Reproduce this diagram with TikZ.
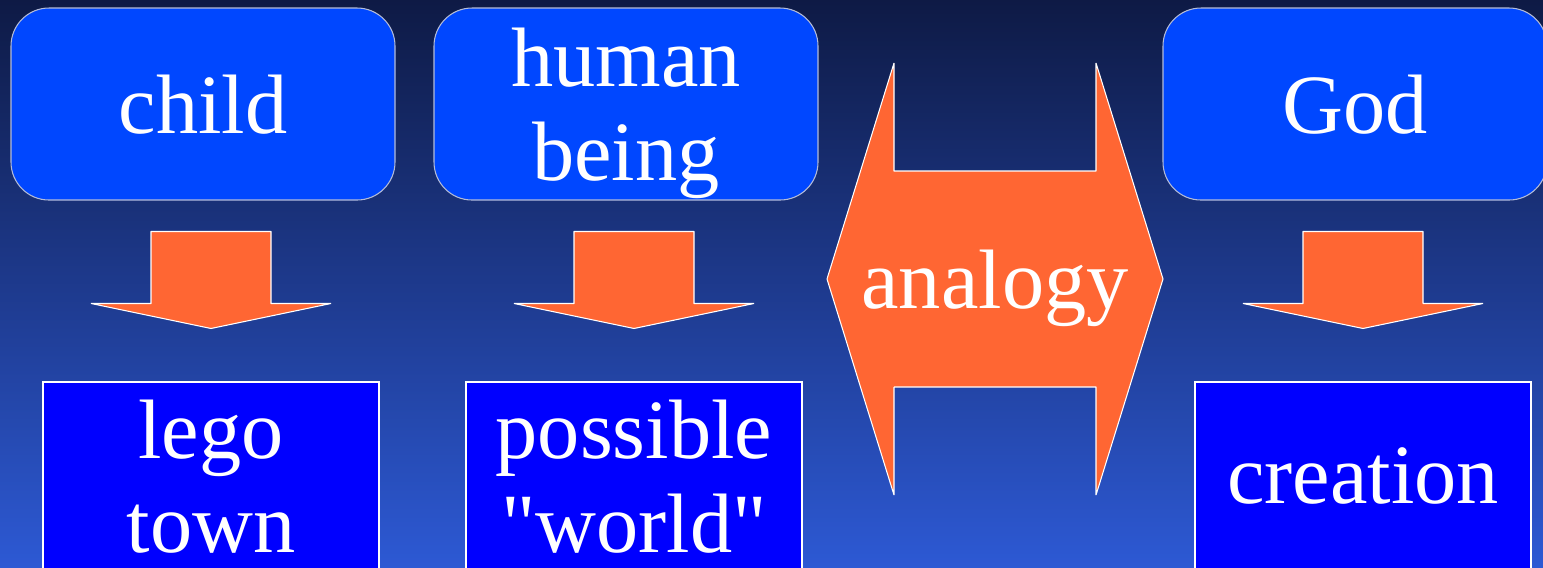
\documentclass[tikz,border=0pt]{standalone}
\usepackage{fontspec}
\setmainfont{Liberation Serif}[Ligatures=TeXOff]
\usepackage{xcolor}
\usetikzlibrary{calc}
\definecolor{bgtop}{HTML}{0E1A45}
\definecolor{bgbot}{HTML}{2D59D4}
\definecolor{boxblue}{HTML}{0047FF}
\definecolor{deepblue}{HTML}{0000FF}
\definecolor{arrorange}{HTML}{FF6633}
\definecolor{rimgray}{HTML}{B4BCD8}

\begin{document}
\begin{tikzpicture}[x=0.1mm,y=-0.1mm,font=\fontsize{24}{26.7}\selectfont,
  tb/.style={rectangle,rounded corners=3.8mm,draw=rimgray,line width=0.3pt,fill=boxblue,text=white,align=center,inner sep=0pt,minimum width=38.4mm,minimum height=19.2mm,text depth=0pt},
  bb/.style={rectangle,draw=white,line width=0.3pt,fill=deepblue,text=white,align=center,inner sep=0pt,minimum width=33.6mm,minimum height=18.8mm,text depth=0pt},
  blk/.style={draw=white,line width=0.3pt,line join=bevel,fill=arrorange}]
  \useasboundingbox (0,0) rectangle (1543,567);
  \clip (0,0) rectangle (1543,567);
  \shade[top color=bgtop,bottom color=bgbot] (0,0) rectangle (1543,567);
  % upper row
  \node[tb] (child) at (203,104) {child};
  \node[tb] (human) at (626,104) {human\\being};
  \node[tb] (god) at (1355,104) {God};
  % lower row
  \node[bb] (lego) at (211,476) {lego\\town};
  \node[bb] (world) at (634,476) {possible\\"world"};
  \node[bb] (creation) at (1363,476) {creation};
  % block arrows down
  \foreach \b in {lego,world,creation}
    \draw[blk] (\b.north) ++(-60,-150) -- ++(120,0) -- ++(0,72) -- ++(60,0) -- ++(-120,25) -- ++(-120,-25) -- ++(60,0) -- cycle;
  % analogy double arrow
  \coordinate (mid) at (995,279);
  \draw[blk] (mid) ++(-168,0) -- ++(67,-216) -- ++(0,108) -- ++(202,0) -- ++(0,-108) -- ++(67,216) -- ++(-67,216) -- ++(0,-108) -- ++(-202,0) -- ++(0,108) -- cycle;
  \node[text=white,text depth=0pt,inner sep=0pt] (analogy) at (mid) {analogy};
\end{tikzpicture}
\end{document}
